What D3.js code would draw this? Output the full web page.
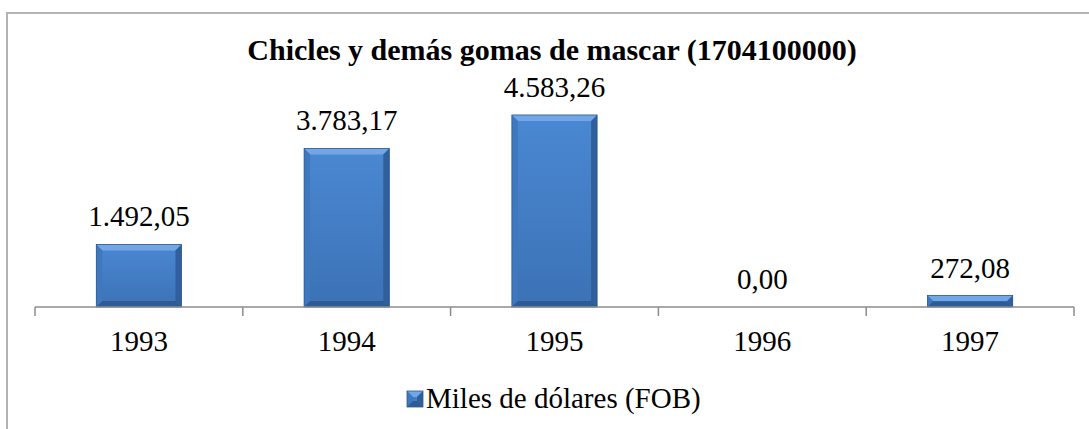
<!DOCTYPE html>
<html>
<head>
<meta charset="utf-8">
<script src="https://cdn.jsdelivr.net/npm/d3@7/dist/d3.min.js"></script>
<style>
  html, body { margin: 0; padding: 0; background: #fff; overflow: hidden; }
  svg text { font-family: "Times New Roman", Tinos, "Liberation Serif", LiberationSerif, "DejaVu Serif", serif; }
</style>
</head>
<body>
<svg id="chart" width="1089" height="429"></svg>
<script>
const years = ['1993', '1994', '1995', '1996', '1997'];
const values = [1492.05, 3783.17, 4583.26, 0.0, 272.08];
const seriesName = 'Miles de dólares (FOB)';
const title = 'Chicles y demás gomas de mascar (1704100000)';

const es = d3.formatLocale({ decimal: ',', thousands: '.', grouping: [3], currency: ['', ''] });
const fmt = es.format(',.2f');

const svg = d3.select('#chart');

// chart frame (runs past the right and bottom edges)
svg.append('rect')
  .attr('x', 7).attr('y', 13)
  .attr('width', 1200).attr('height', 600)
  .attr('fill', '#fff')
  .attr('stroke', '#b3b3b3')
  .attr('stroke-width', 2);

const defs = svg.append('defs');
const grad = defs.append('linearGradient')
  .attr('id', 'barFill').attr('x1', 0).attr('y1', 0).attr('x2', 0).attr('y2', 1);
grad.append('stop').attr('offset', '0%').attr('stop-color', '#4a88d2');
grad.append('stop').attr('offset', '100%').attr('stop-color', '#3c72b6');

const x = d3.scaleBand()
  .domain(years)
  .range([35, 1074])
  .paddingInner(0.59)
  .paddingOuter(0.295);

const y = d3.scaleLinear()
  .domain([0, 5000])
  .range([307, 97.5]);

const base = y(0);

// bevelled bar drawing
const bevel = (g, x0, y0, w, h) => {
  const b = Math.min(6, h / 2, w / 2);
  g.append('rect')
    .attr('x', x0).attr('y', y0).attr('width', w).attr('height', h)
    .attr('fill', 'url(#barFill)');
  g.append('polygon')
    .attr('points', [[x0, y0], [x0 + w, y0], [x0 + w - b, y0 + b], [x0 + b, y0 + b]].join(' '))
    .attr('fill', '#73a6e6');
  g.append('polygon')
    .attr('points', [[x0, y0], [x0 + b, y0 + b], [x0 + b, y0 + h - b], [x0, y0 + h]].join(' '))
    .attr('fill', '#3f78be');
  g.append('polygon')
    .attr('points', [[x0 + w, y0], [x0 + w - b, y0 + b], [x0 + w - b, y0 + h - b], [x0 + w, y0 + h]].join(' '))
    .attr('fill', '#2f5f9c');
  g.append('polygon')
    .attr('points', [[x0, y0 + h], [x0 + b, y0 + h - b], [x0 + w - b, y0 + h - b], [x0 + w, y0 + h]].join(' '))
    .attr('fill', '#2e5b93');
  g.append('rect')
    .attr('x', x0).attr('y', y0).attr('width', w).attr('height', h)
    .attr('fill', 'none').attr('stroke', '#2d5a8f').attr('stroke-width', 0.8);
};

const bars = svg.append('g').attr('class', 'bars');
years.forEach((yr, i) => {
  const h = base - y(values[i]);
  if (h > 0.5) bevel(bars.append('g'), x(yr), y(values[i]), x.bandwidth(), h);
});

// x axis line with boundary ticks
const axis = svg.append('g').attr('class', 'x-axis');
axis.append('line')
  .attr('x1', x.range()[0]).attr('x2', x.range()[1])
  .attr('y1', base).attr('y2', base)
  .attr('stroke', '#8c8c8c').attr('stroke-width', 1.5);
const bounds = years.map(yr => x(yr) - x.step() * x.paddingInner() / 2)
  .concat([x.range()[1]]);
bounds[0] = x.range()[0];
axis.selectAll('.tick')
  .data(bounds)
  .enter()
  .append('line')
  .attr('class', 'tick')
  .attr('x1', d => d).attr('x2', d => d)
  .attr('y1', base).attr('y2', base + 9)
  .attr('stroke', '#8c8c8c').attr('stroke-width', 1.5);

axis.selectAll('.year')
  .data(years)
  .enter()
  .append('text')
  .attr('class', 'year')
  .attr('x', d => x(d) + x.bandwidth() / 2)
  .attr('y', 351)
  .attr('text-anchor', 'middle')
  .attr('font-size', 29)
  .text(d => d);

// value labels
svg.append('g').selectAll('text')
  .data(values)
  .enter()
  .append('text')
  .attr('x', (d, i) => x(years[i]) + x.bandwidth() / 2)
  .attr('y', d => y(d) - 18)
  .attr('text-anchor', 'middle')
  .attr('font-size', 29)
  .text(d => fmt(d));

// title
svg.append('text')
  .attr('x', 552)
  .attr('y', 60)
  .attr('text-anchor', 'middle')
  .attr('font-size', 30)
  .attr('font-weight', 'bold')
  .text(title);

// legend
const legend = svg.append('g').attr('class', 'legend');
bevel(legend, 407, 391, 16, 16);
legend.append('text')
  .attr('x', 426)
  .attr('y', 408)
  .attr('font-size', 29)
  .text(seriesName);
</script>
</body>
</html>
